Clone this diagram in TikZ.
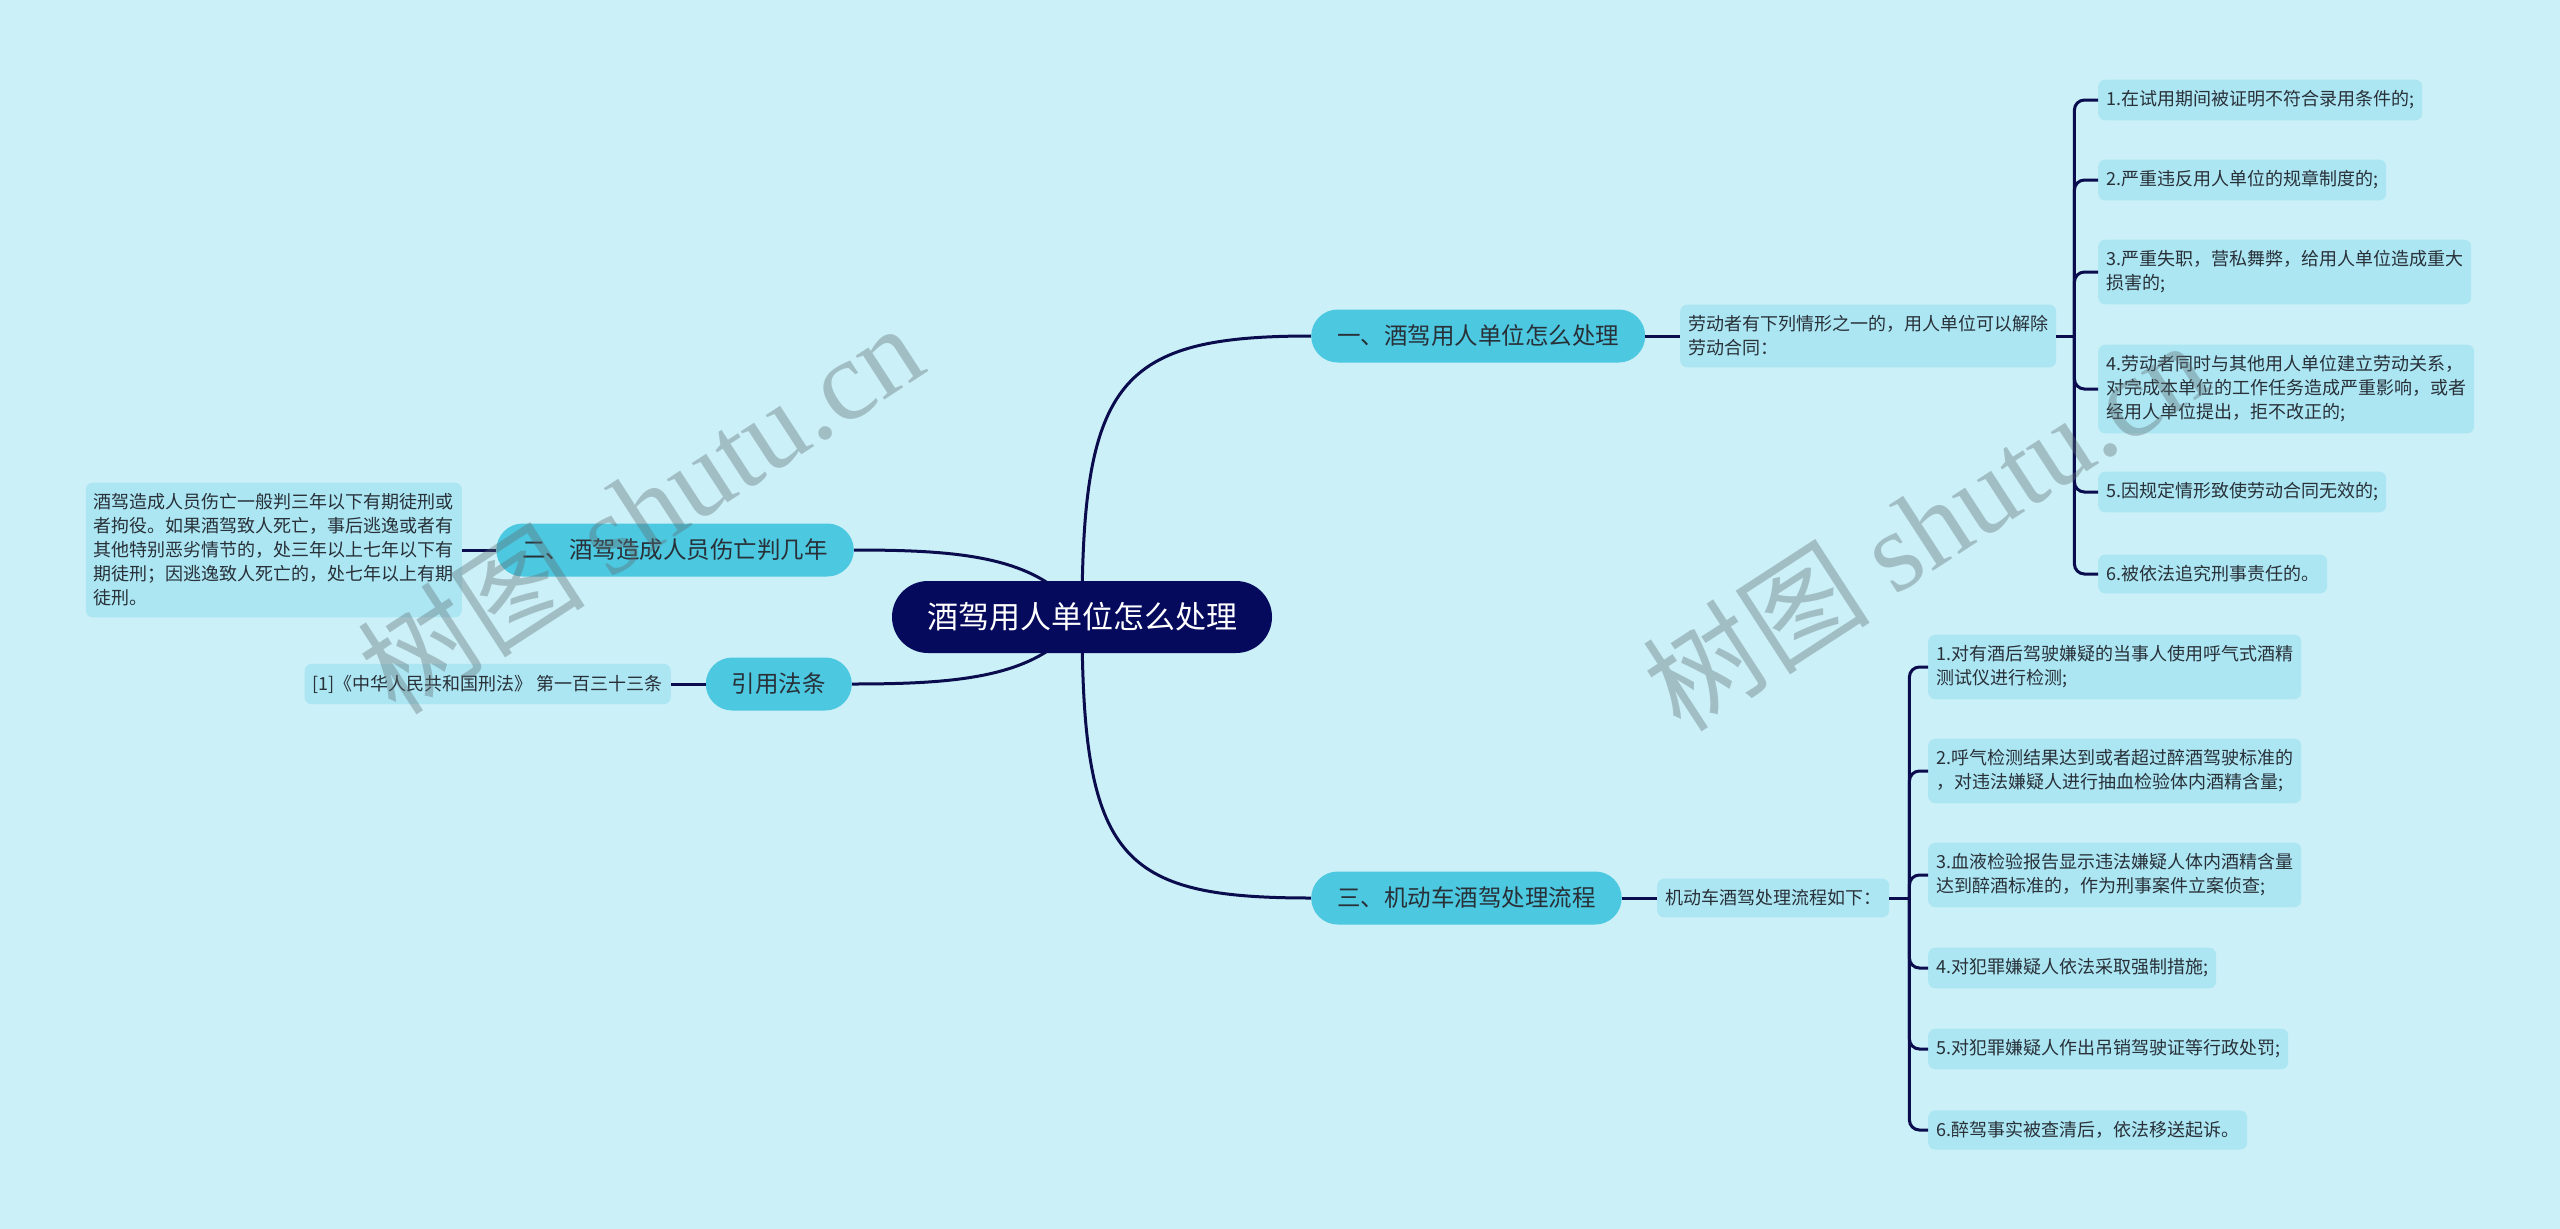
\documentclass[tikz,border=0pt]{standalone}
\usepackage{fontspec}
\setmainfont{Noto Sans CJK SC}
\newfontfamily\wmlatin{Liberation Serif}
\usetikzlibrary{positioning}
\definecolor{bgcol}{RGB}{203,240,248}
\definecolor{rootcol}{RGB}{6,10,92}
\definecolor{branchcol}{RGB}{76,200,224}
\definecolor{leafcol}{RGB}{172,230,243}
\definecolor{linecol}{RGB}{10,12,78}
\definecolor{txtcol}{RGB}{40,48,56}
\definecolor{wmcol}{RGB}{95,110,115}
\pgfdeclarelayer{back}
\pgfsetlayers{back,main}

\begin{document}
\begin{tikzpicture}[x=1pt, y=-1pt,
  link/.style={draw=linecol, line width=3pt},
  rootnode/.style={fill=rootcol, text=white, rounded corners=36pt,
    minimum height=72pt, inner xsep=35pt, font=\fontsize{31}{36}\selectfont},
  branch/.style={fill=branchcol, text=txtcol, rounded corners=26.5pt,
    minimum height=53pt, inner xsep=26pt, font=\fontsize{23.5}{28}\selectfont},
  leaf/.style={fill=leafcol, text=txtcol, rounded corners=7pt, inner xsep=8pt,
    inner ysep=11pt, align=left, font=\fontsize{18}{24}\selectfont},
  wmark/.style={text=wmcol, text opacity=0.38, rotate=33,
    font=\fontsize{114}{114}\selectfont}]
  % Centre and main branches
  \node[rootnode] (root) at (1082,617) {酒驾用人单位怎么处理};
  \node[branch, anchor=west] (b1) at (1311,336) {一、酒驾用人单位怎么处理};
  \node[branch, anchor=east] (b2) at (854,550) {二、酒驾造成人员伤亡判几年};
  \node[branch, anchor=east] (b3) at (852,684) {引用法条};
  \node[branch, anchor=west] (b4) at (1311,898) {三、机动车酒驾处理流程};

  % Second level
  \node[leaf, anchor=west] (m1) at (1680,336) {劳动者有下列情形之一的，用人单位可以解除\\劳动合同：};
  \node[leaf, anchor=east] (m2) at (462,550) {酒驾造成人员伤亡一般判三年以下有期徒刑或\\者拘役。如果酒驾致人死亡，事后逃逸或者有\\其他特别恶劣情节的，处三年以上七年以下有\\期徒刑；因逃逸致人死亡的，处七年以上有期\\徒刑。};
  \node[leaf, anchor=east] (m3) at (671,684) {[1]《中华人民共和国刑法》 第一百三十三条};
  \node[leaf, anchor=west] (m4) at (1657,898) {机动车酒驾处理流程如下：};

  % Leaves of branch one
  \node[leaf, anchor=west] (a1) at (2098,100) {1.在试用期间被证明不符合录用条件的;};
  \node[leaf, anchor=west] (a2) at (2098,180) {2.严重违反用人单位的规章制度的;};
  \node[leaf, anchor=west] (a3) at (2098,272) {3.严重失职，营私舞弊，给用人单位造成重大\\损害的;};
  \node[leaf, anchor=west] (a4) at (2098,389) {4.劳动者同时与其他用人单位建立劳动关系，\\对完成本单位的工作任务造成严重影响，或者\\经用人单位提出，拒不改正的;};
  \node[leaf, anchor=west] (a5) at (2098,492) {5.因规定情形致使劳动合同无效的;};
  \node[leaf, anchor=west] (a6) at (2098,574) {6.被依法追究刑事责任的。};

  % Leaves of branch three
  \node[leaf, anchor=west] (c1) at (1928,667) {1.对有酒后驾驶嫌疑的当事人使用呼气式酒精\\测试仪进行检测;};
  \node[leaf, anchor=west] (c2) at (1928,771) {2.呼气检测结果达到或者超过醉酒驾驶标准的\\，对违法嫌疑人进行抽血检验体内酒精含量;};
  \node[leaf, anchor=west] (c3) at (1928,875) {3.血液检验报告显示违法嫌疑人体内酒精含量\\达到醉酒标准的，作为刑事案件立案侦查;};
  \node[leaf, anchor=west] (c4) at (1928,968) {4.对犯罪嫌疑人依法采取强制措施;};
  \node[leaf, anchor=west] (c5) at (1928,1049) {5.对犯罪嫌疑人作出吊销驾驶证等行政处罚;};
  \node[leaf, anchor=west] (c6) at (1928,1130) {6.醉驾事实被查清后，依法移送起诉。};

  % Connectors
  \draw[link] (b1.east) -- (m1.west);
  \draw[link] (b2.west) -- (m2.east);
  \draw[link] (b3.west) -- (m3.east);
  \draw[link] (b4.east) -- (m4.west);
  \coordinate (j1) at ([xshift=18pt]m1.east);
  \coordinate (j2) at ([xshift=20pt]m4.east);
  \draw[link] (m1.east) -- (j1);
  \draw[link] (m4.east) -- (j2);
  \foreach \i in {1,...,6} {
    \draw[link, rounded corners=10pt] (j1) |- (a\i.west);
    \draw[link, rounded corners=10pt] (j2) |- (c\i.west);
  }

  \begin{pgfonlayer}{back}
    \fill[bgcol] (0,0) rectangle (2560,1229);
    \draw[link] (root.center) .. controls +(0,-237) and +(-191,0) .. (b1.west);
    \draw[link] (root.center) .. controls +(0,243) and +(-191,0) .. (b4.west);
    \draw[link] (root.center) .. controls +(-40,-60) and +(110,0) .. (b2.east);
    \draw[link] (root.center) .. controls +(-40,60) and +(110,0) .. (b3.east);
  \end{pgfonlayer}

  % Watermarks
  \node[wmark] (wm1) at (640,508) {树图 {\wmlatin shutu.cn}};
  \node[wmark] (wm2) at (1925,525) {树图 {\wmlatin shutu.cn}};
\end{tikzpicture}
\end{document}
